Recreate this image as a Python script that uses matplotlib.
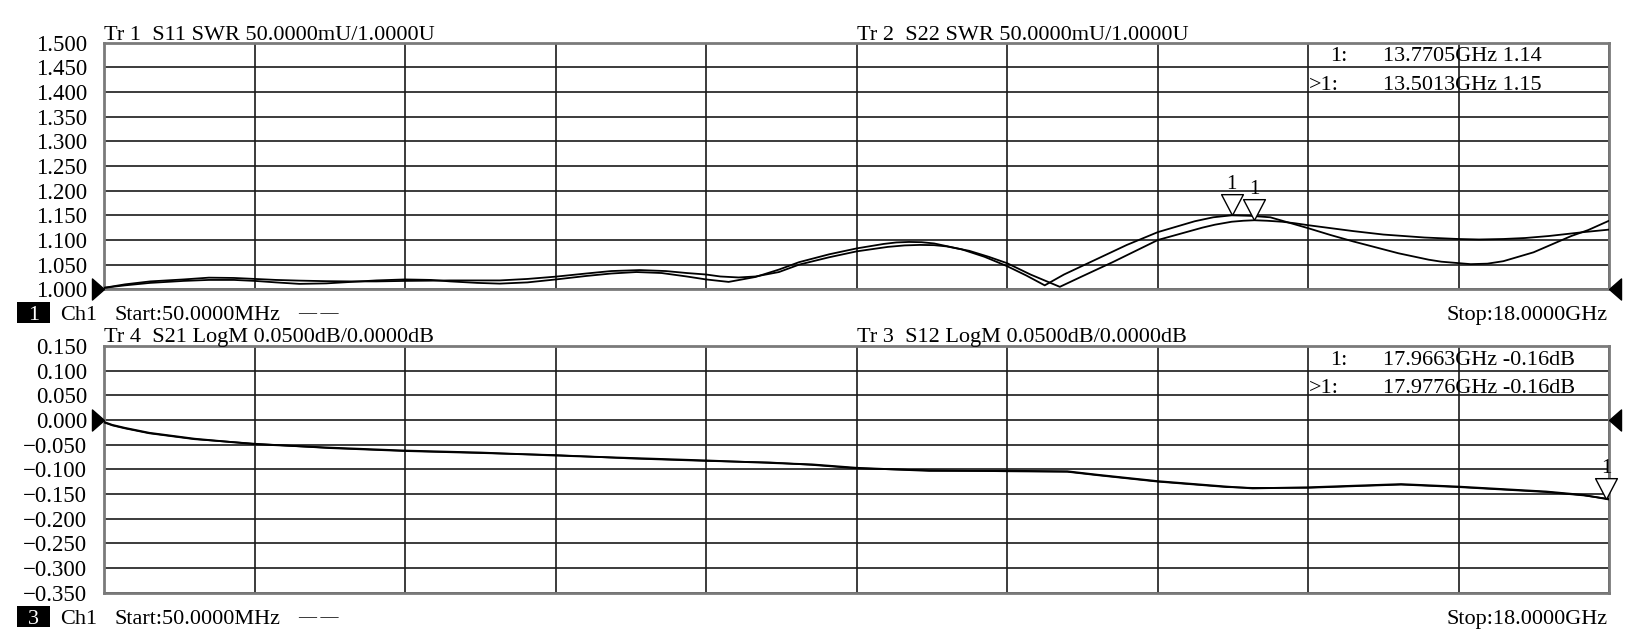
import matplotlib
matplotlib.use("Agg")
import matplotlib.pyplot as plt
import numpy as np
from matplotlib.patches import Rectangle

plt.rcParams['font.family'] = ['Liberation Serif', 'DejaVu Serif']

# ---------------- data ----------------
f_start, f_stop = 0.05, 18.0  # GHz

# upper panel (SWR)
s22_f = [0.05, 0.30, 0.60, 1.00, 1.30, 1.60, 1.85, 2.10, 2.38, 2.70, 3.00, 3.30, 3.64, 3.95,
         4.18, 4.50, 4.77, 5.10, 5.44, 5.80, 6.10, 6.40, 6.70, 7.00, 7.23, 7.50, 7.82, 8.10,
         8.34, 8.70, 9.03, 9.35, 9.50, 9.65, 9.80, 9.95, 10.28, 10.55, 10.82, 11.05, 11.27,
         11.50, 11.90, 12.25, 12.62, 13.06, 13.28, 13.50, 13.72, 13.96, 14.41, 14.68, 14.95,
         15.22, 15.49, 15.85, 16.00, 16.35, 16.55, 16.74, 17.10, 17.25, 17.40, 17.55, 17.75,
         18.00]
s22_v = [1.003, 1.008, 1.013, 1.017, 1.019, 1.019, 1.017, 1.014, 1.011, 1.012, 1.015, 1.018,
         1.020, 1.019, 1.016, 1.013, 1.0115, 1.014, 1.020, 1.027, 1.032, 1.035, 1.033, 1.026,
         1.020, 1.015, 1.025, 1.040, 1.055, 1.071, 1.083, 1.092, 1.095, 1.096, 1.0955, 1.093,
         1.081, 1.066, 1.047, 1.028, 1.008, 1.030, 1.062, 1.090, 1.116, 1.138, 1.146, 1.150,
         1.149, 1.146, 1.124, 1.110, 1.097, 1.085, 1.073, 1.060, 1.056, 1.051, 1.052, 1.057,
         1.075, 1.086, 1.097, 1.108, 1.120, 1.139]

s11_f = [0.05, 0.30, 0.60, 1.00, 1.30, 1.60, 1.85, 2.10, 2.38, 2.70, 3.00, 3.30, 3.64, 3.95,
         4.18, 4.50, 4.77, 5.10, 5.44, 5.80, 6.10, 6.44, 6.75, 7.00, 7.23, 7.40, 7.62, 7.82,
         8.10, 8.34, 8.70, 9.03, 9.40, 9.60, 9.78, 9.95, 10.10, 10.37, 10.60, 10.82, 11.10,
         11.45, 11.70, 12.08, 12.62, 13.15, 13.30, 13.50, 13.64, 13.77, 13.92, 14.10, 14.25,
         14.41, 14.95, 15.31, 15.80, 16.20, 16.45, 16.74, 17.00, 17.28, 17.70, 18.00]
s11_v = [1.003, 1.010, 1.016, 1.020, 1.0236, 1.023, 1.021, 1.019, 1.0176, 1.0165, 1.016, 1.016,
         1.017, 1.0175, 1.018, 1.018, 1.018, 1.021, 1.0257, 1.032, 1.037, 1.039, 1.037, 1.033,
         1.030, 1.026, 1.024, 1.026, 1.035, 1.050, 1.065, 1.077, 1.086, 1.089, 1.090, 1.0895,
         1.087, 1.078, 1.066, 1.053, 1.030, 1.005, 1.025, 1.055, 1.100, 1.125, 1.131, 1.137,
         1.139, 1.140, 1.139, 1.137, 1.134, 1.130, 1.118, 1.111, 1.105, 1.102, 1.101, 1.102,
         1.104, 1.108, 1.116, 1.121]

# lower panel (LogM dB)
s21_f = [0.05, 0.15, 0.30, 0.59, 1.13, 1.85, 2.74, 3.64, 4.54, 5.44, 6.33, 7.23, 8.00, 8.49,
         9.03, 9.89, 10.82, 11.54, 11.90, 12.62, 13.44, 13.75, 14.41, 15.00, 15.52, 16.20,
         17.25, 17.70, 18.00]
s21_v = [-0.004, -0.010, -0.016, -0.026, -0.038, -0.049, -0.056, -0.062, -0.066, -0.072,
         -0.077, -0.082, -0.087, -0.090, -0.097, -0.103, -0.103, -0.104, -0.111, -0.124,
         -0.135, -0.1385, -0.1365, -0.133, -0.130, -0.135, -0.145, -0.152, -0.161]
s12_v = [-0.005, -0.011, -0.017, -0.027, -0.039, -0.048, -0.057, -0.063, -0.067, -0.071,
         -0.078, -0.083, -0.086, -0.091, -0.098, -0.102, -0.104, -0.105, -0.112, -0.125,
         -0.136, -0.1375, -0.1375, -0.134, -0.131, -0.136, -0.146, -0.153, -0.160]

upper_ticks = [1.500, 1.450, 1.400, 1.350, 1.300, 1.250, 1.200, 1.150, 1.100, 1.050, 1.000]
lower_ticks = [0.150, 0.100, 0.050, 0.000, -0.050, -0.100, -0.150, -0.200, -0.250, -0.300, -0.350]

upper_markers = [(13.7705, 1.14), (13.5013, 1.15)]
lower_markers = [(17.9663, -0.16), (17.9776, -0.16)]

upper_title_left = "Tr 1  S11 SWR 50.0000mU/1.0000U"
upper_title_right = "Tr 2  S22 SWR 50.0000mU/1.0000U"
lower_title_left = "Tr 4  S21 LogM 0.0500dB/0.0000dB"
lower_title_right = "Tr 3  S12 LogM 0.0500dB/0.0000dB"
upper_marker_rows = [("1:", "13.7705GHz 1.14"), (">1:", "13.5013GHz 1.15")]
lower_marker_rows = [("1:", "17.9663GHz -0.16dB"), (">1:", "17.9776GHz -0.16dB")]

# ---------------- figure ----------------
W, H = 1636, 643
fig = plt.figure(figsize=(W / 100, H / 100), dpi=100)
fig.patch.set_facecolor('white')
FS = 16


def fx(x):
    return x / W


def fy(y):
    return 1 - y / H


def make_axes(top, bottom):
    return fig.add_axes([fx(104), fy(bottom), fx(1609) - fx(104), fy(top) - fy(bottom)])


ax1 = make_axes(42.7, 289.3)
ax2 = make_axes(346.0, 592.7)

xgrid = np.linspace(f_start, f_stop, 11)

for ax, ticks in ((ax1, upper_ticks), (ax2, lower_ticks)):
    ax.set_xlim(f_start, f_stop)
    ax.set_ylim(min(ticks), max(ticks))
    ax.set_xticks(xgrid)
    ax.set_xticklabels([])
    ax.set_yticks(ticks)
    ax.set_yticklabels([f"{t:.3f}".replace("-", "\u2212") for t in ticks], fontsize=FS + 0.5)
    ax.tick_params(axis='both', length=0, pad=12)
    ax.grid(True, color='#1a1a1a', linewidth=1.2)
    for sp in ax.spines.values():
        sp.set_color('#7a7a7a')
        sp.set_linewidth(2)
    ax.set_axisbelow(True)

# traces
ax1.plot(s11_f, s11_v, color='black', lw=1.3, zorder=3)
ax1.plot(s22_f, s22_v, color='black', lw=1.3, zorder=3)
ax2.plot(s21_f, s21_v, color='black', lw=1.4, zorder=3)
ax2.plot(s21_f, s12_v, color='black', lw=1.2, zorder=3)

# reference level arrows
left_tri = [(0, 0), (-12, 10.5), (-12, -10.5), (0, 0)]
right_tri = [(0, 0), (12, 10.5), (12, -10.5), (0, 0)]
for ax, ref in ((ax1, 1.0), (ax2, 0.0)):
    ax.plot([f_start], [ref], marker=left_tri, markersize=17.3, color='black',
            clip_on=False, zorder=5)
    ax.plot([f_stop], [ref], marker=right_tri, markersize=17.3, color='black',
            clip_on=False, zorder=5)

# marker triangles
down_tri = [(0, 0), (-11, 21), (11, 21), (0, 0)]
for ax, mk in ((ax1, upper_markers), (ax2, lower_markers[:1])):
    for f, v in mk:
        ax.plot([f], [v], marker=down_tri, markersize=30, markerfacecolor='white',
                markeredgecolor='black', markeredgewidth=1.0, clip_on=False, zorder=6)
        ax.annotate("1", (f, v), xytext=(0, 22), textcoords='offset points',
                    ha='center', va='center', fontsize=FS - 1, zorder=7,
                    annotation_clip=False)


# texts
def txt(x, y, s, ha='left', size=FS, **kw):
    fig.text(fx(x), fy(y), s, ha=ha, va='baseline', fontsize=size, **kw)


txt(104, 40, upper_title_left)
txt(857, 40, upper_title_right)
txt(104, 342, lower_title_left)
txt(857, 342, lower_title_right)

for rows, ybs in ((upper_marker_rows, (61, 90)), (lower_marker_rows, (365, 393))):
    for (lab, val), yb in zip(rows, ybs):
        txt(1330 if lab == "1:" else 1309, yb, lab)
        txt(1383, yb, val)

for num, top, yb in (("1", 302, 320), ("3", 606, 624)):
    fig.patches.append(Rectangle((fx(17), fy(top + 21)), fx(33), 21 / H,
                                 transform=fig.transFigure, facecolor='black',
                                 edgecolor='none'))
    fig.text(fx(33.5), fy(yb), num, color='white', ha='center', va='baseline', fontsize=FS)
    txt(60, yb, "Ch1")
    txt(114, yb, "Start:50.0000MHz")
    txt(298, yb - 2, "\u2014 \u2014", size=13)
    txt(1608, yb, "Stop:18.0000GHz", ha='right')

fig.savefig("out.png", dpi=100, facecolor='white')
